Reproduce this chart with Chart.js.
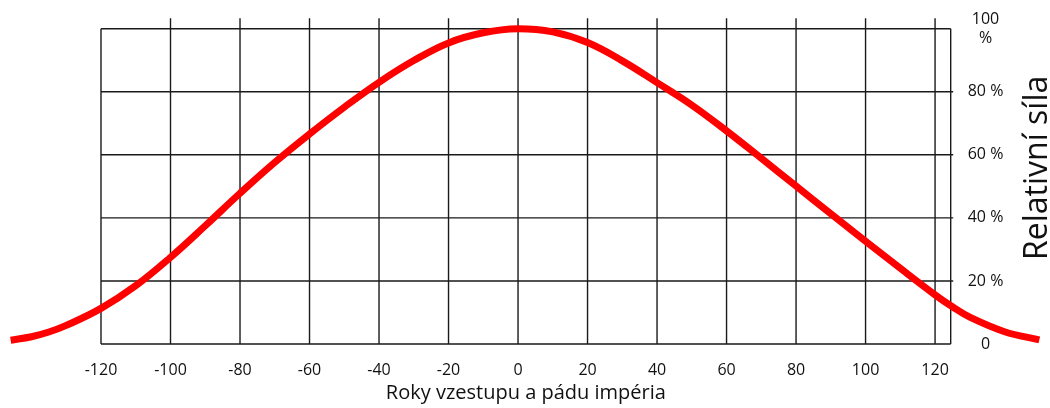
<!DOCTYPE html>
<html>
<head>
<meta charset="utf-8">
<script src="https://cdn.jsdelivr.net/npm/chart.js@4/dist/chart.umd.min.js"></script>
<style>
  html, body { margin: 0; padding: 0; background: #ffffff; }
  #wrap { width: 1050px; height: 408px; }
</style>
</head>
<body>
<div id="wrap"><canvas id="c" width="1050" height="408"></canvas></div>
<script>
// ---- data ----
const years = [-146, -140, -135, -130, -120, -110, -100, -90, -80, -70, -60, -50, -40, -30, -20, -10, 0,
               10, 20, 30, 40, 50, 60, 70, 80, 90, 100, 110, 120, 125, 130, 140, 150];
const strength = [1.2, 2.3, 3.8, 5.9, 11.3, 18.5, 27.5, 37.5, 47.8, 57.6, 66.6, 75.1, 83.0, 89.9, 95.5, 98.7, 100,
                  99.0, 95.6, 89.8, 82.9, 75.8, 67.6, 58.9, 50.1, 41.3, 32.6, 24.0, 15.6, 11.8, 8.5, 3.9, 1.3];
const xTicks = [-120, -100, -80, -60, -40, -20, 0, 20, 40, 60, 80, 100, 120];
const yTicks = [0, 20, 40, 60, 80, 100];
const xTitle = 'Roky vzestupu a pádu impéria';
const yTitle = 'Relativní síla';
const xRange = [-120, 124.5];
const yRange = [0, 100];

Chart.defaults.font.family = "'Open Sans', 'DejaVu Sans', sans-serif";
Chart.defaults.color = '#111111';

const boxGrid = {
  id: 'boxGrid',
  beforeDatasetsDraw(chart) {
    const { ctx, chartArea: a, scales: { x, y } } = chart;
    const top = y.getPixelForValue(yTicks[yTicks.length - 1]);
    const bottom = y.getPixelForValue(yTicks[0]);
    const left = x.getPixelForValue(xTicks[0]);
    const right = a.right;
    ctx.save();
    ctx.strokeStyle = '#1a1a1a';
    ctx.lineWidth = 1.4;
    ctx.beginPath();
    xTicks.slice(1).forEach(v => {
      const px = x.getPixelForValue(v);
      ctx.moveTo(px, bottom);
      ctx.lineTo(px, top - 10.5);
    });
    yTicks.forEach((v, i) => {
      const py = y.getPixelForValue(v);
      ctx.moveTo(left, py);
      ctx.lineTo(i === 0 || i === yTicks.length - 1 ? right : right + 2.5, py);
    });
    ctx.moveTo(left, top); ctx.lineTo(left, bottom);
    ctx.moveTo(right, top); ctx.lineTo(right, bottom);
    ctx.stroke();
    ctx.restore();
  },
  afterDraw(chart) {
    const { ctx, chartArea: a } = chart;
    ctx.save();
    ctx.fillStyle = '#111111';
    ctx.font = "32px 'Open Sans', 'DejaVu Sans', sans-serif";
    ctx.textAlign = 'center';
    ctx.textBaseline = 'alphabetic';
    ctx.translate(1047, (a.top + a.bottom) / 2 - 18.5);
    ctx.rotate(-Math.PI / 2);
    ctx.fillText(yTitle, 0, 0);
    ctx.restore();
  }
};

new Chart(document.getElementById('c'), {
  type: 'line',
  data: {
    datasets: [{
      data: years.map((yr, i) => ({ x: yr, y: strength[i] })),
      borderColor: '#ff0000',
      borderWidth: 7,
      borderCapStyle: 'butt',
      borderJoinStyle: 'round',
      pointRadius: 0,
      fill: false,
      tension: 0.4,
      clip: false
    }]
  },
  options: {
    responsive: false,
    animation: false,
    devicePixelRatio: 1,
    layout: { padding: { left: 101, top: 28.7, right: 0, bottom: 0 } },
    plugins: { legend: { display: false }, tooltip: { enabled: false } },
    scales: {
      x: {
        type: 'linear',
        position: 'bottom',
        bounds: 'data',
        grid: { display: false, drawTicks: false },
        border: { display: false },
        afterDataLimits: s => { s.min = xRange[0]; s.max = xRange[1]; },
        afterBuildTicks: s => { s.ticks = xTicks.map(v => ({ value: v })); s.min = xRange[0]; s.max = xRange[1]; },
        afterFit: s => { s.height = 64; s.paddingLeft = 0; s.paddingRight = 0; s.paddingTop = 0; s.paddingBottom = 0; },
        ticks: {
          font: { size: 16 },
          color: '#111111',
          padding: 17,
          maxRotation: 0,
          autoSkip: false,
          callback: v => String(v)
        },
        title: {
          display: true,
          text: xTitle,
          font: { size: 20 },
          color: '#111111',
          padding: { top: 0, bottom: 3 }
        }
      },
      y: {
        type: 'linear',
        position: 'right',
        min: yRange[0],
        max: yRange[1],
        grid: { display: false, drawTicks: false },
        border: { display: false },
        afterBuildTicks: s => { s.ticks = yTicks.map(v => ({ value: v })); },
        afterFit: s => { s.width = 99.3; s.paddingTop = 0; s.paddingBottom = 0; s.paddingLeft = 0; s.paddingRight = 0; },
        ticks: {
          font: { size: 16 },
          color: '#111111',
          padding: 17,
          crossAlign: 'center',
          callback: v => v === 100 ? ['100', '%'] : (v === 0 ? '0' : v + ' %')
        }
      }
    }
  },
  plugins: [boxGrid]
});
</script>
</body>
</html>
